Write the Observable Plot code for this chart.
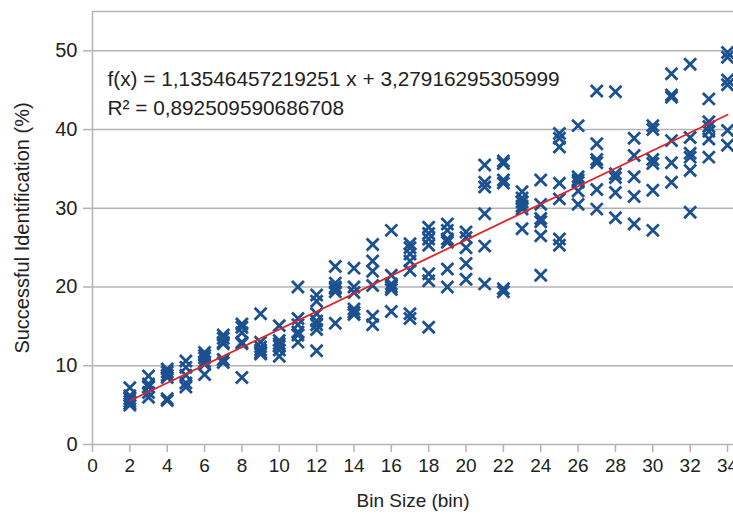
<!DOCTYPE html>
<html>
<head>
<meta charset="utf-8">
<script src="https://cdn.jsdelivr.net/npm/d3@7"></script>
<script src="https://cdn.jsdelivr.net/npm/@observablehq/plot@0.6"></script>
<style>
  html, body { margin: 0; padding: 0; background: #fff; }
  #chart svg { display: block; }
</style>
</head>
<body>
<div id="chart"></div>
<script>
// Bin sizes (x) and observed successful identification values (%) per bin size
const binSizes = [2,3,4,5,6,7,8,9,10,11,12,13,14,15,16,17,18,19,20,21,22,23,24,25,26,27,28,29,30,31,32,33,34];
const identification = [
  [7.2, 6.2, 5.8, 5.5, 5.2, 5.0],
  [8.7, 7.7, 7.3, 6.6, 6.0],
  [9.6, 9.2, 8.8, 8.5, 5.6, 5.8],
  [10.6, 9.8, 8.8, 7.8, 7.3],
  [11.7, 11.3, 11.0, 10.5, 10.2, 8.9],
  [13.9, 13.5, 13.0, 12.8, 10.8, 10.4],
  [15.3, 14.9, 14.2, 13.0, 12.8, 8.5],
  [16.6, 13.0, 12.4, 12.0, 11.7, 11.5],
  [15.1, 13.2, 12.8, 12.5, 12.0, 11.2],
  [20.0, 16.0, 15.2, 14.3, 13.9, 13.0],
  [19.0, 18.2, 16.6, 15.7, 15.2, 14.6, 11.9],
  [22.6, 20.5, 20.0, 19.8, 19.4, 15.4],
  [22.4, 20.0, 19.3, 17.2, 16.8, 16.5],
  [25.4, 23.3, 22.0, 20.2, 16.3, 15.2],
  [27.2, 21.5, 20.4, 20.0, 19.7, 16.9],
  [25.5, 25.0, 24.2, 23.3, 22.1, 16.6, 16.0],
  [27.6, 26.8, 26.1, 25.3, 21.7, 20.8, 14.9],
  [28.0, 27.2, 26.1, 25.7, 22.3, 20.0],
  [27.0, 26.3, 25.0, 23.0, 21.0],
  [35.5, 33.3, 32.7, 29.3, 25.2, 20.4],
  [36.0, 35.7, 33.6, 33.2, 19.8, 19.4],
  [32.1, 31.3, 30.8, 30.3, 29.9, 27.4],
  [33.6, 30.5, 28.7, 28.3, 26.5, 21.5],
  [39.5, 38.9, 37.8, 33.2, 31.2, 26.1, 25.3],
  [40.5, 34.0, 33.6, 33.3, 32.2, 30.5],
  [44.9, 38.2, 36.2, 35.8, 32.4, 29.9],
  [44.8, 34.4, 33.9, 32.0, 28.8],
  [38.9, 36.7, 34.0, 31.5, 28.0],
  [40.5, 40.0, 36.2, 35.7, 32.3, 27.2],
  [47.1, 44.4, 44.1, 38.6, 35.8, 33.3],
  [48.3, 39.0, 37.0, 36.5, 34.8, 29.5],
  [43.9, 41.0, 40.4, 39.8, 38.8, 36.5],
  [49.8, 49.2, 46.3, 45.7, 39.9, 38.0]
];
const xTicks = [0,2,4,6,8,10,12,14,16,18,20,22,24,26,28,30,32,34];
const yTicks = [0,10,20,30,40,50];
const slope = 1.13546457219251;
const intercept = 3.27916295305999;
const rSquared = 0.892509590686708;

const points = binSizes.flatMap((b, i) => identification[i].map(v => ({bin: b, value: v})));
const xMin = d3.min(binSizes), xMax = d3.max(binSizes);
const trend = [xMin, xMax].map(b => ({bin: b, value: slope * b + intercept}));
const fmt = v => String(v).replace(".", ",");
const eqText = `f(x) = ${fmt(slope)} x + ${fmt(intercept)}`;
const r2Text = `R² = ${fmt(rSquared)}`;

const font = "'Liberation Sans', Arial, sans-serif";
const grid = "#b3b3b3";

const chart = Plot.plot({
  width: 733,
  height: 519,
  marginLeft: 92,
  marginRight: 0,
  marginTop: 11,
  marginBottom: 75,
  style: {fontFamily: font, background: "#fff", color: "#222"},
  x: {domain: [0, 34.32], ticks: xTicks, label: null},
  y: {domain: [0, 55], ticks: yTicks, label: null},
  marks: [
    Plot.ruleY(yTicks.filter(d => d > 0), {stroke: grid, strokeWidth: 1.5}),
    Plot.ruleY([55], {stroke: grid, strokeWidth: 1.5}),
    Plot.ruleX([0], {stroke: grid, strokeWidth: 1.5}),
    Plot.ruleY([0], {stroke: grid, strokeWidth: 1.5}),
    Plot.axisX({ticks: xTicks, tickSize: 8, tickPadding: 6, stroke: grid, strokeWidth: 1.5, fontSize: 19, fill: "#222", label: "Bin Size (bin)", labelAnchor: "center", labelArrow: "none", labelOffset: 62}),
    Plot.axisY({ticks: yTicks, tickSize: 9, tickPadding: 6, stroke: grid, strokeWidth: 1.5, fontSize: 20, fill: "#222", label: "Successful Identification (%)", labelAnchor: "center", labelArrow: "none", labelOffset: 78}),
    Plot.dot(points, {x: "bin", y: "value", symbol: "times", r: 5.5, stroke: "#1b5190", strokeWidth: 2.8}),
    Plot.line(trend, {x: "bin", y: "value", stroke: "#e0242a", strokeWidth: 1.8}),
    Plot.text([eqText], {frameAnchor: "top-left", dx: 15, dy: 68, textAnchor: "start", lineAnchor: "middle", fontSize: 20.8, fill: "#222"}),
    Plot.text([r2Text], {frameAnchor: "top-left", dx: 15, dy: 97, textAnchor: "start", lineAnchor: "middle", fontSize: 20.8, fill: "#222"})
  ]
});
document.getElementById("chart").appendChild(chart);
</script>
</body>
</html>
